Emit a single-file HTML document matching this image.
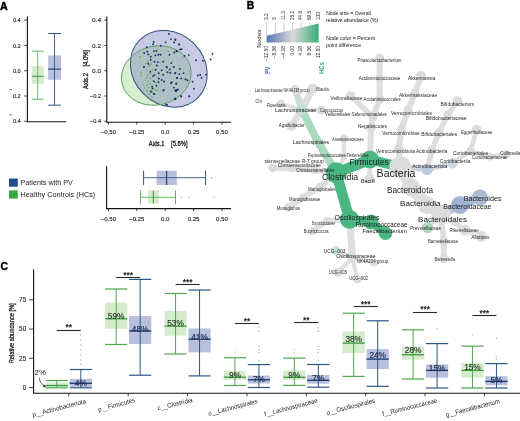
<!DOCTYPE html>
<html><head><meta charset="utf-8"><style>
html,body{margin:0;padding:0;background:#fff;}
svg{display:block;filter:blur(0.3px);}
text{font-family:"Liberation Sans",sans-serif;} .tk{stroke:#2a2a2a;stroke-width:0.15px;}
</style></head><body>
<svg width="520" height="421" viewBox="0 0 520 421">
<rect width="520" height="421" fill="#fff"/>
<text x="0.10" y="9.62" font-size="10.60" fill="#000" font-weight="bold" stroke="#000" stroke-width="0.5">A</text>
<line x1="27.40" y1="16.50" x2="27.40" y2="122.20" stroke="#111" stroke-width="1.1"/>
<line x1="26.90" y1="121.70" x2="66.00" y2="121.70" stroke="#111" stroke-width="1.1"/>
<line x1="24.20" y1="20.10" x2="27.40" y2="20.10" stroke="#111" stroke-width="0.8"/>
<text x="12.90" y="22.26" font-size="6.00" fill="#2a2a2a" textLength="7.80" lengthAdjust="spacingAndGlyphs" class="tk">0.4</text>
<line x1="24.20" y1="45.40" x2="27.40" y2="45.40" stroke="#111" stroke-width="0.8"/>
<text x="12.90" y="47.56" font-size="6.00" fill="#2a2a2a" textLength="7.80" lengthAdjust="spacingAndGlyphs" class="tk">0.2</text>
<line x1="24.20" y1="70.70" x2="27.40" y2="70.70" stroke="#111" stroke-width="0.8"/>
<text x="12.90" y="72.86" font-size="6.00" fill="#2a2a2a" textLength="7.80" lengthAdjust="spacingAndGlyphs" class="tk">0.0</text>
<line x1="24.20" y1="96.00" x2="27.40" y2="96.00" stroke="#111" stroke-width="0.8"/>
<text x="12.90" y="98.16" font-size="6.00" fill="#2a2a2a" textLength="7.80" lengthAdjust="spacingAndGlyphs" class="tk">0.2</text>
<line x1="9.40" y1="89.50" x2="12.00" y2="89.50" stroke="#444" stroke-width="0.7"/>
<line x1="24.20" y1="121.30" x2="27.40" y2="121.30" stroke="#111" stroke-width="0.8"/>
<text x="12.90" y="123.46" font-size="6.00" fill="#2a2a2a" textLength="7.80" lengthAdjust="spacingAndGlyphs" class="tk">0.4</text>
<line x1="9.40" y1="114.80" x2="12.00" y2="114.80" stroke="#444" stroke-width="0.7"/>
<rect x="31.80" y="66.30" width="12.00" height="17.50" fill="#d6ebcd"/>
<line x1="37.70" y1="51.10" x2="37.70" y2="99.20" stroke="#4ea84e" stroke-width="0.8"/>
<line x1="31.80" y1="51.10" x2="43.60" y2="51.10" stroke="#4ea84e" stroke-width="0.9"/>
<line x1="31.80" y1="99.20" x2="43.60" y2="99.20" stroke="#4ea84e" stroke-width="0.9"/>
<line x1="31.80" y1="76.30" x2="43.60" y2="76.30" stroke="#3c8f3c" stroke-width="1.0"/>
<rect x="48.20" y="55.40" width="12.80" height="24.40" fill="#b9c0dd"/>
<line x1="54.50" y1="33.50" x2="54.50" y2="105.20" stroke="#2c5689" stroke-width="0.9"/>
<line x1="48.20" y1="33.50" x2="61.00" y2="33.50" stroke="#2c5689" stroke-width="1.0"/>
<line x1="48.20" y1="105.20" x2="61.00" y2="105.20" stroke="#2c5689" stroke-width="1.0"/>
<line x1="48.20" y1="69.10" x2="61.00" y2="69.10" stroke="#1d3f73" stroke-width="1.1"/>
<line x1="106.80" y1="16.50" x2="106.80" y2="122.20" stroke="#111" stroke-width="1.1"/>
<line x1="106.30" y1="122.30" x2="231.00" y2="122.30" stroke="#111" stroke-width="1.1"/>
<line x1="104.30" y1="20.10" x2="106.80" y2="20.10" stroke="#111" stroke-width="0.8"/>
<text x="92.00" y="22.26" font-size="6.00" fill="#2a2a2a" textLength="9.00" lengthAdjust="spacingAndGlyphs" class="tk">0.4</text>
<line x1="104.30" y1="45.40" x2="106.80" y2="45.40" stroke="#111" stroke-width="0.8"/>
<text x="92.00" y="47.56" font-size="6.00" fill="#2a2a2a" textLength="9.00" lengthAdjust="spacingAndGlyphs" class="tk">0.2</text>
<line x1="104.30" y1="70.70" x2="106.80" y2="70.70" stroke="#111" stroke-width="0.8"/>
<text x="92.00" y="72.86" font-size="6.00" fill="#2a2a2a" textLength="9.00" lengthAdjust="spacingAndGlyphs" class="tk">0.0</text>
<line x1="104.30" y1="96.00" x2="106.80" y2="96.00" stroke="#111" stroke-width="0.8"/>
<text x="90.00" y="98.16" font-size="6.00" fill="#2a2a2a" textLength="11.00" lengthAdjust="spacingAndGlyphs" class="tk">−0.2</text>
<line x1="104.30" y1="121.30" x2="106.80" y2="121.30" stroke="#111" stroke-width="0.8"/>
<text x="90.00" y="123.46" font-size="6.00" fill="#2a2a2a" textLength="11.00" lengthAdjust="spacingAndGlyphs" class="tk">−0.4</text>
<line x1="108.45" y1="122.10" x2="108.45" y2="124.60" stroke="#111" stroke-width="0.8"/>
<text x="100.86" y="133.76" font-size="6.00" fill="#2a2a2a" class="tk">−0.50</text>
<line x1="136.82" y1="122.10" x2="136.82" y2="124.60" stroke="#111" stroke-width="0.8"/>
<text x="129.23" y="133.76" font-size="6.00" fill="#2a2a2a" class="tk">−0.25</text>
<line x1="165.20" y1="122.10" x2="165.20" y2="124.60" stroke="#111" stroke-width="0.8"/>
<text x="161.03" y="133.76" font-size="6.00" fill="#2a2a2a" class="tk">0.0</text>
<line x1="193.57" y1="122.10" x2="193.57" y2="124.60" stroke="#111" stroke-width="0.8"/>
<text x="187.74" y="133.76" font-size="6.00" fill="#2a2a2a" class="tk">0.25</text>
<line x1="221.95" y1="122.10" x2="221.95" y2="124.60" stroke="#111" stroke-width="0.8"/>
<text x="216.11" y="133.76" font-size="6.00" fill="#2a2a2a" class="tk">0.50</text>
<text x="148.80" y="146.34" font-size="7.60" fill="#1a1a1a" textLength="38.70" lengthAdjust="spacingAndGlyphs" style="white-space:pre" stroke="#1a1a1a" stroke-width="0.3">Axis.1    [5.6%]</text>
<text transform="translate(87.54,89.00) rotate(-90)" x="0" y="0" font-size="7.60" fill="#1a1a1a" stroke="#1a1a1a" stroke-width="0.3" style="white-space:pre" textLength="39.00" lengthAdjust="spacingAndGlyphs">Axis.2    [4.0%]</text>
<ellipse cx="156.3" cy="75.5" rx="35.2" ry="29.4" transform="rotate(-14 156.3 75.5)" fill="#d8eed0"/>
<ellipse cx="168.8" cy="68.8" rx="41.0" ry="35.6" transform="rotate(45 168.8 68.8)" fill="rgb(98,104,178)" fill-opacity="0.35"/>
<ellipse cx="168.8" cy="68.8" rx="41.0" ry="35.6" transform="rotate(45 168.8 68.8)" fill="none" stroke="#2f4f7a" stroke-width="1.0"/>
<ellipse cx="156.3" cy="75.5" rx="35.2" ry="29.4" transform="rotate(-14 156.3 75.5)" fill="none" stroke="#5a9e5a" stroke-width="0.9"/>
<circle cx="140.10" cy="56.80" r="0.85" fill="#62b562"/>
<circle cx="168.00" cy="51.10" r="0.85" fill="#62b562"/>
<circle cx="147.80" cy="61.70" r="0.85" fill="#62b562"/>
<circle cx="149.70" cy="65.00" r="0.85" fill="#62b562"/>
<circle cx="149.20" cy="66.20" r="0.85" fill="#62b562"/>
<circle cx="147.30" cy="69.80" r="0.85" fill="#62b562"/>
<circle cx="141.50" cy="72.70" r="0.85" fill="#62b562"/>
<circle cx="147.80" cy="74.70" r="0.85" fill="#62b562"/>
<circle cx="141.10" cy="75.60" r="0.85" fill="#62b562"/>
<circle cx="146.80" cy="77.50" r="0.85" fill="#62b562"/>
<circle cx="150.20" cy="78.50" r="0.85" fill="#62b562"/>
<circle cx="148.30" cy="81.40" r="0.85" fill="#62b562"/>
<circle cx="153.10" cy="80.90" r="0.85" fill="#62b562"/>
<circle cx="143.50" cy="84.80" r="0.85" fill="#62b562"/>
<circle cx="147.30" cy="85.20" r="0.85" fill="#62b562"/>
<circle cx="155.50" cy="82.80" r="0.85" fill="#62b562"/>
<circle cx="147.30" cy="90.50" r="0.85" fill="#62b562"/>
<circle cx="151.20" cy="90.00" r="0.85" fill="#62b562"/>
<circle cx="155.50" cy="90.00" r="0.85" fill="#62b562"/>
<circle cx="149.20" cy="93.90" r="0.85" fill="#62b562"/>
<circle cx="152.60" cy="92.40" r="0.85" fill="#62b562"/>
<circle cx="157.40" cy="90.50" r="0.85" fill="#62b562"/>
<circle cx="158.80" cy="82.30" r="0.85" fill="#62b562"/>
<circle cx="147.10" cy="90.60" r="0.85" fill="#62b562"/>
<circle cx="151.20" cy="92.30" r="0.85" fill="#62b562"/>
<circle cx="146.00" cy="63.50" r="0.85" fill="#62b562"/>
<circle cx="151.00" cy="64.00" r="0.85" fill="#62b562"/>
<circle cx="145.50" cy="80.00" r="0.85" fill="#62b562"/>
<circle cx="150.00" cy="84.00" r="0.85" fill="#62b562"/>
<circle cx="152.00" cy="97.00" r="0.85" fill="#62b562"/>
<circle cx="146.00" cy="96.00" r="0.85" fill="#62b562"/>
<circle cx="149.00" cy="87.50" r="0.85" fill="#62b562"/>
<circle cx="144.50" cy="88.00" r="0.85" fill="#62b562"/>
<circle cx="150.50" cy="73.50" r="0.85" fill="#62b562"/>
<circle cx="152.50" cy="70.00" r="0.85" fill="#62b562"/>
<circle cx="168.90" cy="34.00" r="0.95" fill="#1b3560"/>
<circle cx="170.90" cy="39.10" r="0.95" fill="#1b3560"/>
<circle cx="175.20" cy="39.50" r="0.95" fill="#1b3560"/>
<circle cx="174.20" cy="42.40" r="0.95" fill="#1b3560"/>
<circle cx="165.60" cy="42.40" r="0.95" fill="#1b3560"/>
<circle cx="153.60" cy="41.90" r="0.95" fill="#1b3560"/>
<circle cx="153.10" cy="44.30" r="0.95" fill="#1b3560"/>
<circle cx="160.80" cy="45.80" r="0.95" fill="#1b3560"/>
<circle cx="146.80" cy="47.20" r="0.95" fill="#1b3560"/>
<circle cx="179.00" cy="44.30" r="0.95" fill="#1b3560"/>
<circle cx="144.20" cy="53.00" r="0.95" fill="#1b3560"/>
<circle cx="147.30" cy="51.80" r="0.95" fill="#1b3560"/>
<circle cx="148.30" cy="54.40" r="0.95" fill="#1b3560"/>
<circle cx="154.00" cy="51.10" r="0.95" fill="#1b3560"/>
<circle cx="156.40" cy="50.90" r="0.95" fill="#1b3560"/>
<circle cx="155.50" cy="55.40" r="0.95" fill="#1b3560"/>
<circle cx="158.40" cy="54.70" r="0.95" fill="#1b3560"/>
<circle cx="160.60" cy="54.70" r="0.95" fill="#1b3560"/>
<circle cx="150.70" cy="56.80" r="0.95" fill="#1b3560"/>
<circle cx="169.40" cy="54.70" r="0.95" fill="#1b3560"/>
<circle cx="174.20" cy="52.50" r="0.95" fill="#1b3560"/>
<circle cx="177.10" cy="51.10" r="0.95" fill="#1b3560"/>
<circle cx="150.70" cy="59.70" r="0.95" fill="#1b3560"/>
<circle cx="154.50" cy="61.70" r="0.95" fill="#1b3560"/>
<circle cx="157.90" cy="62.10" r="0.95" fill="#1b3560"/>
<circle cx="163.20" cy="61.70" r="0.95" fill="#1b3560"/>
<circle cx="171.30" cy="63.10" r="0.95" fill="#1b3560"/>
<circle cx="148.30" cy="63.80" r="0.95" fill="#1b3560"/>
<circle cx="156.90" cy="65.50" r="0.95" fill="#1b3560"/>
<circle cx="143.90" cy="66.90" r="0.95" fill="#1b3560"/>
<circle cx="166.50" cy="66.90" r="0.95" fill="#1b3560"/>
<circle cx="175.50" cy="39.90" r="0.95" fill="#1b3560"/>
<circle cx="179.30" cy="44.60" r="0.95" fill="#1b3560"/>
<circle cx="180.20" cy="49.40" r="0.95" fill="#1b3560"/>
<circle cx="181.70" cy="49.10" r="0.95" fill="#1b3560"/>
<circle cx="184.50" cy="56.00" r="0.95" fill="#1b3560"/>
<circle cx="188.80" cy="55.10" r="0.95" fill="#1b3560"/>
<circle cx="195.90" cy="60.30" r="0.95" fill="#1b3560"/>
<circle cx="203.00" cy="60.80" r="0.95" fill="#1b3560"/>
<circle cx="212.50" cy="53.70" r="0.95" fill="#1b3560"/>
<circle cx="210.60" cy="59.40" r="0.95" fill="#1b3560"/>
<circle cx="176.40" cy="51.30" r="0.95" fill="#1b3560"/>
<circle cx="143.90" cy="67.00" r="0.95" fill="#1b3560"/>
<circle cx="155.50" cy="69.80" r="0.95" fill="#1b3560"/>
<circle cx="161.70" cy="70.30" r="0.95" fill="#1b3560"/>
<circle cx="167.00" cy="67.40" r="0.95" fill="#1b3560"/>
<circle cx="169.90" cy="69.40" r="0.95" fill="#1b3560"/>
<circle cx="173.80" cy="67.00" r="0.95" fill="#1b3560"/>
<circle cx="150.20" cy="71.80" r="0.95" fill="#1b3560"/>
<circle cx="158.80" cy="73.20" r="0.95" fill="#1b3560"/>
<circle cx="163.20" cy="74.70" r="0.95" fill="#1b3560"/>
<circle cx="167.50" cy="72.30" r="0.95" fill="#1b3560"/>
<circle cx="170.40" cy="72.70" r="0.95" fill="#1b3560"/>
<circle cx="175.20" cy="73.20" r="0.95" fill="#1b3560"/>
<circle cx="153.10" cy="76.10" r="0.95" fill="#1b3560"/>
<circle cx="154.50" cy="75.10" r="0.95" fill="#1b3560"/>
<circle cx="158.80" cy="78.50" r="0.95" fill="#1b3560"/>
<circle cx="161.70" cy="79.90" r="0.95" fill="#1b3560"/>
<circle cx="177.10" cy="78.00" r="0.95" fill="#1b3560"/>
<circle cx="154.00" cy="81.40" r="0.95" fill="#1b3560"/>
<circle cx="158.40" cy="81.90" r="0.95" fill="#1b3560"/>
<circle cx="164.10" cy="81.40" r="0.95" fill="#1b3560"/>
<circle cx="171.80" cy="82.30" r="0.95" fill="#1b3560"/>
<circle cx="170.90" cy="83.30" r="0.95" fill="#1b3560"/>
<circle cx="176.20" cy="83.80" r="0.95" fill="#1b3560"/>
<circle cx="152.10" cy="86.70" r="0.95" fill="#1b3560"/>
<circle cx="156.40" cy="85.70" r="0.95" fill="#1b3560"/>
<circle cx="173.80" cy="87.60" r="0.95" fill="#1b3560"/>
<circle cx="175.20" cy="90.50" r="0.95" fill="#1b3560"/>
<circle cx="177.10" cy="89.60" r="0.95" fill="#1b3560"/>
<circle cx="163.70" cy="90.00" r="0.95" fill="#1b3560"/>
<circle cx="152.60" cy="88.60" r="0.95" fill="#1b3560"/>
<circle cx="154.50" cy="93.90" r="0.95" fill="#1b3560"/>
<circle cx="150.70" cy="91.50" r="0.95" fill="#1b3560"/>
<circle cx="175.20" cy="98.70" r="0.95" fill="#1b3560"/>
<circle cx="167.00" cy="105.00" r="0.95" fill="#1b3560"/>
<circle cx="179.80" cy="68.90" r="0.95" fill="#1b3560"/>
<circle cx="175.50" cy="73.10" r="0.95" fill="#1b3560"/>
<circle cx="179.30" cy="74.10" r="0.95" fill="#1b3560"/>
<circle cx="183.60" cy="73.10" r="0.95" fill="#1b3560"/>
<circle cx="176.90" cy="77.90" r="0.95" fill="#1b3560"/>
<circle cx="181.20" cy="78.40" r="0.95" fill="#1b3560"/>
<circle cx="185.50" cy="79.30" r="0.95" fill="#1b3560"/>
<circle cx="187.40" cy="80.30" r="0.95" fill="#1b3560"/>
<circle cx="176.40" cy="83.60" r="0.95" fill="#1b3560"/>
<circle cx="192.60" cy="81.70" r="0.95" fill="#1b3560"/>
<circle cx="197.80" cy="75.50" r="0.95" fill="#1b3560"/>
<circle cx="200.20" cy="75.00" r="0.95" fill="#1b3560"/>
<circle cx="201.60" cy="77.90" r="0.95" fill="#1b3560"/>
<circle cx="205.90" cy="74.60" r="0.95" fill="#1b3560"/>
<circle cx="194.00" cy="88.80" r="0.95" fill="#1b3560"/>
<circle cx="176.40" cy="90.20" r="0.95" fill="#1b3560"/>
<circle cx="177.90" cy="89.80" r="0.95" fill="#1b3560"/>
<circle cx="181.20" cy="96.40" r="0.95" fill="#1b3560"/>
<circle cx="189.30" cy="96.40" r="0.95" fill="#1b3560"/>
<circle cx="175.50" cy="98.80" r="0.95" fill="#1b3560"/>
<circle cx="154.00" cy="94.00" r="0.95" fill="#1b3560"/>
<circle cx="163.30" cy="90.60" r="0.95" fill="#1b3560"/>
<circle cx="176.00" cy="91.20" r="0.95" fill="#1b3560"/>
<circle cx="174.80" cy="98.70" r="0.95" fill="#1b3560"/>
<circle cx="181.20" cy="96.30" r="0.95" fill="#1b3560"/>
<circle cx="189.20" cy="96.30" r="0.95" fill="#1b3560"/>
<circle cx="166.20" cy="104.50" r="0.95" fill="#1b3560"/>
<line x1="106.60" y1="166.30" x2="106.60" y2="209.10" stroke="#111" stroke-width="1.1"/>
<line x1="106.30" y1="208.60" x2="231.00" y2="208.60" stroke="#111" stroke-width="1.1"/>
<line x1="108.45" y1="208.60" x2="108.45" y2="211.10" stroke="#111" stroke-width="0.8"/>
<text x="100.86" y="220.96" font-size="6.00" fill="#2a2a2a" class="tk">−0.50</text>
<line x1="136.82" y1="208.60" x2="136.82" y2="211.10" stroke="#111" stroke-width="0.8"/>
<text x="129.23" y="220.96" font-size="6.00" fill="#2a2a2a" class="tk">−0.25</text>
<line x1="165.20" y1="208.60" x2="165.20" y2="211.10" stroke="#111" stroke-width="0.8"/>
<text x="161.03" y="220.96" font-size="6.00" fill="#2a2a2a" class="tk">0.0</text>
<line x1="193.57" y1="208.60" x2="193.57" y2="211.10" stroke="#111" stroke-width="0.8"/>
<text x="187.74" y="220.96" font-size="6.00" fill="#2a2a2a" class="tk">0.25</text>
<line x1="221.95" y1="208.60" x2="221.95" y2="211.10" stroke="#111" stroke-width="0.8"/>
<text x="216.11" y="220.96" font-size="6.00" fill="#2a2a2a" class="tk">0.50</text>
<rect x="156.60" y="170.80" width="20.20" height="14.20" fill="#b9c0dd"/>
<line x1="143.60" y1="177.70" x2="205.60" y2="177.70" stroke="#2c5689" stroke-width="0.9"/>
<line x1="143.60" y1="170.60" x2="143.60" y2="185.00" stroke="#2c5689" stroke-width="1.0"/>
<line x1="205.60" y1="170.60" x2="205.60" y2="185.00" stroke="#2c5689" stroke-width="1.0"/>
<line x1="166.60" y1="170.80" x2="166.60" y2="185.00" stroke="#1d3f73" stroke-width="1.1"/>
<circle cx="211.50" cy="177.70" r="0.90" fill="#c4c4c4"/>
<rect x="148.10" y="190.40" width="10.70" height="13.20" fill="#d6ebcd"/>
<line x1="140.50" y1="197.30" x2="175.50" y2="197.30" stroke="#4ea84e" stroke-width="0.8"/>
<line x1="140.50" y1="190.20" x2="140.50" y2="204.30" stroke="#4ea84e" stroke-width="0.9"/>
<line x1="175.50" y1="190.20" x2="175.50" y2="204.30" stroke="#4ea84e" stroke-width="0.9"/>
<line x1="153.30" y1="190.40" x2="153.30" y2="203.60" stroke="#3c8f3c" stroke-width="1.0"/>
<circle cx="181.50" cy="197.30" r="0.85" fill="#d2d2d2"/>
<circle cx="189.00" cy="197.30" r="0.85" fill="#d2d2d2"/>
<circle cx="214.00" cy="197.30" r="0.85" fill="#d2d2d2"/>
<rect x="9.00" y="178.50" width="8.80" height="8.20" fill="#1f4e8a"/>
<rect x="9.00" y="190.40" width="8.80" height="8.20" fill="#3aa842"/>
<text x="20.60" y="185.38" font-size="7.16" fill="#222" textLength="52.10" lengthAdjust="spacingAndGlyphs">Patients with PV</text>
<text x="20.60" y="197.31" font-size="7.26" fill="#222" textLength="74.60" lengthAdjust="spacingAndGlyphs">Healthy Controls (HCs)</text>
<text x="246.80" y="9.34" font-size="10.40" fill="#000" font-weight="bold" stroke="#000" stroke-width="0.4">B</text>
<defs><linearGradient id="gr" x1="0" x2="1" y1="0" y2="0">
<stop offset="0" stop-color="#5475b2"/><stop offset="0.5" stop-color="#d9d9d9"/><stop offset="1" stop-color="#36ad7a"/></linearGradient></defs>
<polygon points="266.6,35.7 318.6,23.4 318.6,42.4 266.6,42.4" fill="url(#gr)"/>
<line x1="266.60" y1="22.50" x2="266.60" y2="35.70" stroke="#999" stroke-width="0.5"/>
<text transform="translate(267.50,20.1) rotate(-90)" font-size="4.8" fill="#2a2a2a">0.2</text>
<text transform="translate(267.50,61.12) rotate(-90)" font-size="4.9" fill="#2a2a2a">−12.50</text>
<line x1="275.27" y1="22.50" x2="275.27" y2="33.65" stroke="#999" stroke-width="0.5"/>
<text transform="translate(276.17,20.1) rotate(-90)" font-size="4.8" fill="#2a2a2a">3</text>
<text transform="translate(276.17,58.40) rotate(-90)" font-size="4.9" fill="#2a2a2a">−8.36</text>
<line x1="283.93" y1="22.50" x2="283.93" y2="31.60" stroke="#999" stroke-width="0.5"/>
<text transform="translate(284.83,20.1) rotate(-90)" font-size="4.8" fill="#2a2a2a">11.3</text>
<text transform="translate(284.83,58.40) rotate(-90)" font-size="4.9" fill="#2a2a2a">−4.18</text>
<line x1="292.60" y1="22.50" x2="292.60" y2="29.55" stroke="#999" stroke-width="0.5"/>
<text transform="translate(293.50,20.1) rotate(-90)" font-size="4.8" fill="#2a2a2a">25.2</text>
<text transform="translate(293.50,55.54) rotate(-90)" font-size="4.9" fill="#2a2a2a">0.00</text>
<line x1="301.27" y1="22.50" x2="301.27" y2="27.50" stroke="#999" stroke-width="0.5"/>
<text transform="translate(302.17,20.1) rotate(-90)" font-size="4.8" fill="#2a2a2a">44.6</text>
<text transform="translate(302.17,55.54) rotate(-90)" font-size="4.9" fill="#2a2a2a">4.18</text>
<line x1="309.93" y1="22.50" x2="309.93" y2="25.45" stroke="#999" stroke-width="0.5"/>
<text transform="translate(310.83,20.1) rotate(-90)" font-size="4.8" fill="#2a2a2a">69.5</text>
<text transform="translate(310.83,55.54) rotate(-90)" font-size="4.9" fill="#2a2a2a">8.36</text>
<line x1="318.60" y1="22.50" x2="318.60" y2="23.40" stroke="#999" stroke-width="0.5"/>
<text transform="translate(319.50,20.1) rotate(-90)" font-size="4.8" fill="#2a2a2a">100</text>
<text transform="translate(319.50,58.26) rotate(-90)" font-size="4.9" fill="#2a2a2a">12.50</text>
<text transform="translate(260.73,47.80) rotate(-90)" x="0" y="0" font-size="6.20" fill="#1a1a1a" textLength="18.30" lengthAdjust="spacingAndGlyphs">Nodes</text>
<text transform="translate(269.90,74.00) rotate(-90)" x="0" y="0" font-size="6.40" fill="#4a72b0" font-weight="bold" textLength="7.60" lengthAdjust="spacingAndGlyphs">PV</text>
<text transform="translate(324.28,74.00) rotate(-90)" x="0" y="0" font-size="6.60" fill="#35a877" font-weight="bold" textLength="11.70" lengthAdjust="spacingAndGlyphs">HCs</text>
<text x="326.20" y="14.83" font-size="5.10" fill="#111" textLength="44.60" lengthAdjust="spacingAndGlyphs">Node size = Overall</text>
<text x="326.20" y="21.52" font-size="5.06" fill="#111" textLength="52.00" lengthAdjust="spacingAndGlyphs">relative abundance (%)</text>
<text x="326.20" y="40.36" font-size="5.18" fill="#111" textLength="48.80" lengthAdjust="spacingAndGlyphs">Node color = Percent</text>
<text x="326.20" y="47.24" font-size="5.10" fill="#111" textLength="34.80" lengthAdjust="spacingAndGlyphs">point difference</text>
<path d="M349.5,219.3 L352.5,258.0" fill="none" stroke="#dfdfdf" stroke-width="7.199999999999999" stroke-linecap="round" stroke-linejoin="round"/>
<path d="M352.5,258.0 L335.5,250.6" fill="none" stroke="#dfdfdf" stroke-width="4.2" stroke-linecap="round" stroke-linejoin="round"/>
<path d="M352.5,258.0 L374.0,262.5" fill="none" stroke="#dfdfdf" stroke-width="4.2" stroke-linecap="round" stroke-linejoin="round"/>
<path d="M352.5,258.0 L337.5,272.5" fill="none" stroke="#dfdfdf" stroke-width="4.2" stroke-linecap="round" stroke-linejoin="round"/>
<path d="M352.5,258.0 L357.0,279.0" fill="none" stroke="#dfdfdf" stroke-width="4.2" stroke-linecap="round" stroke-linejoin="round"/>
<path d="M349.5,219.3 L327.0,221.0" fill="none" stroke="#dfdfdf" stroke-width="5.3999999999999995" stroke-linecap="round" stroke-linejoin="round"/>
<path d="M327.0,221.0 L313.0,231.0" fill="none" stroke="#dfdfdf" stroke-width="5.3999999999999995" stroke-linecap="round" stroke-linejoin="round"/>
<path d="M302.0,109.8 L312.5,88.8" fill="none" stroke="#dfdfdf" stroke-width="6.96" stroke-linecap="round" stroke-linejoin="round"/>
<path d="M302.0,109.8 L291.3,126.0" fill="none" stroke="#dfdfdf" stroke-width="6.96" stroke-linecap="round" stroke-linejoin="round"/>
<path d="M302.0,109.8 L280.8,103.8" fill="none" stroke="#dfdfdf" stroke-width="3.5999999999999996" stroke-linecap="round" stroke-linejoin="round"/>
<path d="M302.0,109.8 L321.2,110.0" fill="none" stroke="#dfdfdf" stroke-width="3.5999999999999996" stroke-linecap="round" stroke-linejoin="round"/>
<path d="M336.2,172.8 L314.0,170.0" fill="none" stroke="#dfdfdf" stroke-width="6.0" stroke-linecap="round" stroke-linejoin="round"/>
<path d="M314.0,170.0 L292.0,168.3" fill="none" stroke="#dfdfdf" stroke-width="6.0" stroke-linecap="round" stroke-linejoin="round"/>
<path d="M292.0,168.3 L272.5,167.8" fill="none" stroke="#dfdfdf" stroke-width="6.0" stroke-linecap="round" stroke-linejoin="round"/>
<path d="M336.2,172.8 L320.0,187.0" fill="none" stroke="#dfdfdf" stroke-width="6.0" stroke-linecap="round" stroke-linejoin="round"/>
<path d="M320.0,187.0 L303.0,197.5" fill="none" stroke="#dfdfdf" stroke-width="6.0" stroke-linecap="round" stroke-linejoin="round"/>
<path d="M303.0,197.5 L288.0,207.5" fill="none" stroke="#dfdfdf" stroke-width="6.0" stroke-linecap="round" stroke-linejoin="round"/>
<path d="M336.2,172.8 L344.0,157.0" fill="none" stroke="#dfdfdf" stroke-width="3.5999999999999996" stroke-linecap="round" stroke-linejoin="round"/>
<path d="M344.0,157.0 L343.8,138.5" fill="none" stroke="#dfdfdf" stroke-width="4.2" stroke-linecap="round" stroke-linejoin="round"/>
<path d="M370.0,159.5 L369.5,178.5" fill="none" stroke="#dfdfdf" stroke-width="4.8" stroke-linecap="round" stroke-linejoin="round"/>
<path d="M370.0,159.5 L371.0,128.0" fill="none" stroke="#dfdfdf" stroke-width="6.0" stroke-linecap="round" stroke-linejoin="round"/>
<path d="M371.0,128.0 L373.0,117.0" fill="none" stroke="#dfdfdf" stroke-width="6.0" stroke-linecap="round" stroke-linejoin="round"/>
<path d="M373.0,117.0 L350.4,95.7" fill="none" stroke="#dfdfdf" stroke-width="5.3999999999999995" stroke-linecap="round" stroke-linejoin="round"/>
<path d="M373.0,117.0 L379.7,99.0" fill="none" stroke="#dfdfdf" stroke-width="6.0" stroke-linecap="round" stroke-linejoin="round"/>
<path d="M379.7,99.0 L379.7,78.0" fill="none" stroke="#dfdfdf" stroke-width="6.0" stroke-linecap="round" stroke-linejoin="round"/>
<path d="M379.7,78.0 L379.7,58.0" fill="none" stroke="#dfdfdf" stroke-width="6.0" stroke-linecap="round" stroke-linejoin="round"/>
<path d="M400.3,167.0 L398.7,149.2" fill="none" stroke="#dfdfdf" stroke-width="6.0" stroke-linecap="round" stroke-linejoin="round"/>
<path d="M398.7,149.2 L401.4,129.6" fill="none" stroke="#dfdfdf" stroke-width="6.0" stroke-linecap="round" stroke-linejoin="round"/>
<path d="M401.4,129.6 L407.9,110.0" fill="none" stroke="#dfdfdf" stroke-width="6.0" stroke-linecap="round" stroke-linejoin="round"/>
<path d="M407.9,110.0 L415.0,93.0" fill="none" stroke="#dfdfdf" stroke-width="6.0" stroke-linecap="round" stroke-linejoin="round"/>
<path d="M415.0,93.0 L421.0,76.0" fill="none" stroke="#dfdfdf" stroke-width="6.0" stroke-linecap="round" stroke-linejoin="round"/>
<path d="M427.3,169.3 L432.0,149.8" fill="none" stroke="#dfdfdf" stroke-width="5.3999999999999995" stroke-linecap="round" stroke-linejoin="round"/>
<path d="M432.0,149.8 L438.8,132.8" fill="none" stroke="#dfdfdf" stroke-width="5.3999999999999995" stroke-linecap="round" stroke-linejoin="round"/>
<path d="M438.8,132.8 L447.8,114.8" fill="none" stroke="#dfdfdf" stroke-width="5.3999999999999995" stroke-linecap="round" stroke-linejoin="round"/>
<path d="M447.8,114.8 L457.3,101.3" fill="none" stroke="#dfdfdf" stroke-width="5.3999999999999995" stroke-linecap="round" stroke-linejoin="round"/>
<path d="M452.4,163.3 L470.4,150.9" fill="none" stroke="#dfdfdf" stroke-width="4.8" stroke-linecap="round" stroke-linejoin="round"/>
<path d="M470.4,150.9 L476.7,130.1" fill="none" stroke="#dfdfdf" stroke-width="4.8" stroke-linecap="round" stroke-linejoin="round"/>
<path d="M470.4,150.9 L489.6,156.5" fill="none" stroke="#dfdfdf" stroke-width="4.2" stroke-linecap="round" stroke-linejoin="round"/>
<path d="M489.6,156.5 L506.5,154.3" fill="none" stroke="#dfdfdf" stroke-width="4.2" stroke-linecap="round" stroke-linejoin="round"/>
<path d="M400.3,167.0 L411.0,187.5" fill="none" stroke="#dfdfdf" stroke-width="12" stroke-linecap="round" stroke-linejoin="round"/>
<path d="M411.0,187.5 L427.0,205.0" fill="none" stroke="#dfdfdf" stroke-width="12" stroke-linecap="round" stroke-linejoin="round"/>
<path d="M427.0,205.0 L441.0,214.0" fill="none" stroke="#dfdfdf" stroke-width="11.5" stroke-linecap="round" stroke-linejoin="round"/>
<path d="M441.0,214.0 L427.5,227.5" fill="none" stroke="#dfdfdf" stroke-width="5.3999999999999995" stroke-linecap="round" stroke-linejoin="round"/>
<path d="M441.0,214.0 L465.0,230.0" fill="none" stroke="#dfdfdf" stroke-width="5.3999999999999995" stroke-linecap="round" stroke-linejoin="round"/>
<path d="M465.0,230.0 L481.3,236.3" fill="none" stroke="#dfdfdf" stroke-width="5.3999999999999995" stroke-linecap="round" stroke-linejoin="round"/>
<path d="M441.0,214.0 L443.8,241.3" fill="none" stroke="#dfdfdf" stroke-width="6.0" stroke-linecap="round" stroke-linejoin="round"/>
<path d="M443.8,241.3 L443.8,258.8" fill="none" stroke="#dfdfdf" stroke-width="6.0" stroke-linecap="round" stroke-linejoin="round"/>
<path d="M336.2,172.8 L316.4,139.0" fill="none" stroke="#a9d9c0" stroke-width="8" stroke-linecap="round" stroke-linejoin="round"/>
<path d="M316.4,139.0 L302.0,109.8" fill="none" stroke="#a9d9c0" stroke-width="7.5" stroke-linecap="round" stroke-linejoin="round"/>
<path d="M302.0,109.8 L295.2,89.4" fill="none" stroke="#cfdfd6" stroke-width="7" stroke-linecap="round" stroke-linejoin="round"/>
<path d="M400.3,167.0 L427.3,169.3" fill="none" stroke="#d0d6e1" stroke-width="6" stroke-linecap="round" stroke-linejoin="round"/>
<path d="M427.3,169.3 L452.4,163.3" fill="none" stroke="#d3d9e3" stroke-width="5" stroke-linecap="round" stroke-linejoin="round"/>
<path d="M441.0,214.0 L460.0,205.0" fill="none" stroke="#bcc7da" stroke-width="9" stroke-linecap="round" stroke-linejoin="round"/>
<path d="M460.0,205.0 L480.0,197.5" fill="none" stroke="#aebdd7" stroke-width="9" stroke-linecap="round" stroke-linejoin="round"/>
<path d="M400.3,167.0 L370.0,159.5" fill="none" stroke="#4ab682" stroke-width="10" stroke-linecap="round" stroke-linejoin="round"/>
<path d="M370.0,159.5 L336.2,172.8" fill="none" stroke="#4ab682" stroke-width="10.5" stroke-linecap="round" stroke-linejoin="round"/>
<path d="M336.2,172.8 L349.5,219.3" fill="none" stroke="#4ab682" stroke-width="10.5" stroke-linecap="round" stroke-linejoin="round"/>
<path d="M349.5,219.3 L371.0,222.0" fill="none" stroke="#4ab682" stroke-width="9" stroke-linecap="round" stroke-linejoin="round"/>
<path d="M371.0,222.0 L385.5,233.2" fill="none" stroke="#4ab682" stroke-width="8" stroke-linecap="round" stroke-linejoin="round"/>
<circle cx="400.30" cy="167.00" r="10.80" fill="#dcdcdc"/>
<circle cx="352.50" cy="258.00" r="4.50" fill="#dcdcdc"/>
<circle cx="335.50" cy="250.60" r="4.50" fill="#c5e3d2"/>
<circle cx="374.00" cy="262.50" r="4.00" fill="#dcdcdc"/>
<circle cx="337.50" cy="272.50" r="4.30" fill="#dcdcdc"/>
<circle cx="357.00" cy="279.00" r="4.30" fill="#dcdcdc"/>
<circle cx="327.00" cy="221.00" r="4.00" fill="#dcdcdc"/>
<circle cx="313.00" cy="231.00" r="4.00" fill="#dcdcdc"/>
<circle cx="316.40" cy="139.00" r="4.00" fill="#a9d9c0"/>
<circle cx="302.00" cy="109.80" r="5.50" fill="#bfe0cf"/>
<circle cx="295.20" cy="89.40" r="4.50" fill="#dcdcdc"/>
<circle cx="312.50" cy="88.80" r="5.00" fill="#dcdcdc"/>
<circle cx="280.80" cy="103.80" r="4.00" fill="#dcdcdc"/>
<circle cx="321.20" cy="110.00" r="4.50" fill="#dcdcdc"/>
<circle cx="291.30" cy="126.00" r="5.00" fill="#dcdcdc"/>
<circle cx="314.00" cy="170.00" r="4.00" fill="#dcdcdc"/>
<circle cx="292.00" cy="168.30" r="4.00" fill="#dcdcdc"/>
<circle cx="272.50" cy="167.80" r="4.30" fill="#dcdcdc"/>
<circle cx="320.00" cy="187.00" r="4.00" fill="#dcdcdc"/>
<circle cx="303.00" cy="197.50" r="4.00" fill="#dcdcdc"/>
<circle cx="288.00" cy="207.50" r="4.00" fill="#dcdcdc"/>
<circle cx="344.00" cy="157.00" r="3.50" fill="#dcdcdc"/>
<circle cx="343.80" cy="138.50" r="4.00" fill="#dcdcdc"/>
<circle cx="369.50" cy="178.50" r="5.00" fill="#dcdcdc"/>
<circle cx="371.00" cy="128.00" r="4.50" fill="#dcdcdc"/>
<circle cx="373.00" cy="117.00" r="4.50" fill="#dcdcdc"/>
<circle cx="350.40" cy="95.70" r="4.50" fill="#dcdcdc"/>
<circle cx="379.70" cy="99.00" r="4.50" fill="#dcdcdc"/>
<circle cx="379.70" cy="78.00" r="4.00" fill="#dcdcdc"/>
<circle cx="379.70" cy="58.00" r="4.50" fill="#dcdcdc"/>
<circle cx="398.70" cy="149.20" r="5.00" fill="#dcdcdc"/>
<circle cx="401.40" cy="129.60" r="4.50" fill="#dcdcdc"/>
<circle cx="407.90" cy="110.00" r="4.50" fill="#dcdcdc"/>
<circle cx="415.00" cy="93.00" r="4.50" fill="#dcdcdc"/>
<circle cx="421.00" cy="76.00" r="5.00" fill="#dcdcdc"/>
<circle cx="427.30" cy="169.30" r="5.80" fill="#bccade"/>
<circle cx="432.00" cy="149.80" r="4.50" fill="#dcdcdc"/>
<circle cx="438.80" cy="132.80" r="4.50" fill="#dcdcdc"/>
<circle cx="447.80" cy="114.80" r="4.50" fill="#dcdcdc"/>
<circle cx="457.30" cy="101.30" r="5.00" fill="#dcdcdc"/>
<circle cx="452.40" cy="163.30" r="5.30" fill="#cfd7e4"/>
<circle cx="470.40" cy="150.90" r="4.00" fill="#dcdcdc"/>
<circle cx="476.70" cy="130.10" r="5.00" fill="#dcdcdc"/>
<circle cx="489.60" cy="156.50" r="4.00" fill="#dcdcdc"/>
<circle cx="506.50" cy="154.30" r="4.00" fill="#dcdcdc"/>
<circle cx="411.00" cy="187.50" r="9.00" fill="#dcdcdc"/>
<circle cx="427.00" cy="205.00" r="9.00" fill="#dcdcdc"/>
<circle cx="441.00" cy="214.00" r="9.50" fill="#dcdcdc"/>
<circle cx="460.00" cy="205.00" r="9.00" fill="#a3b4d2"/>
<circle cx="480.00" cy="197.50" r="8.00" fill="#acbcd7"/>
<circle cx="427.50" cy="227.50" r="5.50" fill="#add7be"/>
<circle cx="465.00" cy="230.00" r="5.50" fill="#dcdcdc"/>
<circle cx="481.30" cy="236.30" r="5.50" fill="#dcdcdc"/>
<circle cx="443.80" cy="241.30" r="4.50" fill="#dcdcdc"/>
<circle cx="443.80" cy="258.80" r="4.50" fill="#dcdcdc"/>
<circle cx="370.00" cy="159.50" r="9.00" fill="#4ab682"/>
<circle cx="336.20" cy="172.80" r="10.50" fill="#4ab682"/>
<circle cx="349.50" cy="219.30" r="9.50" fill="#4ab682"/>
<circle cx="371.00" cy="222.00" r="7.50" fill="#4ab682"/>
<circle cx="385.50" cy="233.20" r="6.80" fill="#4ab682"/>
<text x="376.60" y="177.31" font-size="10.58" fill="#1a1a1a" textLength="38.80" lengthAdjust="spacingAndGlyphs">Bacteria</text>
<text x="349.60" y="165.27" font-size="8.52" fill="#1a1a1a" textLength="39.30" lengthAdjust="spacingAndGlyphs">Firmicutes</text>
<text x="321.90" y="179.64" font-size="8.71" fill="#1a1a1a" textLength="36.30" lengthAdjust="spacingAndGlyphs">Clostridia</text>
<text x="387.00" y="193.45" font-size="8.19" fill="#1a1a1a" textLength="46.00" lengthAdjust="spacingAndGlyphs">Bacteroidota</text>
<text x="400.00" y="206.21" font-size="8.10" fill="#1a1a1a" textLength="40.50" lengthAdjust="spacingAndGlyphs">Bacteroidia</text>
<text x="418.00" y="221.91" font-size="8.09" fill="#1a1a1a" textLength="49.00" lengthAdjust="spacingAndGlyphs">Bacteroidales</text>
<text x="463.70" y="201.28" font-size="7.16" fill="#1a1a1a" textLength="37.80" lengthAdjust="spacingAndGlyphs">Bacteroides</text>
<text x="443.20" y="208.70" font-size="6.95" fill="#1a1a1a" textLength="48.30" lengthAdjust="spacingAndGlyphs">Bacteroidaceae</text>
<text x="334.50" y="219.51" font-size="6.98" fill="#1a1a1a" textLength="45.00" lengthAdjust="spacingAndGlyphs">Oscillospirales</text>
<text x="355.50" y="226.78" font-size="6.32" fill="#1a1a1a" textLength="52.00" lengthAdjust="spacingAndGlyphs">Ruminococcaceae</text>
<text x="362.50" y="232.89" font-size="5.82" fill="#1a1a1a" textLength="44.30" lengthAdjust="spacingAndGlyphs">Faecalibacterium</text>
<text x="275.00" y="112.25" font-size="5.42" fill="#1a1a1a" textLength="41.30" lengthAdjust="spacingAndGlyphs">Lachnospiraceae</text>
<text x="292.70" y="144.04" font-size="5.40" fill="#1a1a1a" textLength="36.30" lengthAdjust="spacingAndGlyphs">Lachnospirales</text>
<text x="336.20" y="258.33" font-size="5.37" fill="#1a1a1a" textLength="39.40" lengthAdjust="spacingAndGlyphs">Oscillospiraceae</text>
<text x="254.80" y="91.64" font-size="4.55" fill="#2a2a2a" textLength="54.80" lengthAdjust="spacingAndGlyphs">Lachnospiraceae NK4A136 group</text>
<text x="316.30" y="91.24" font-size="4.55" fill="#2a2a2a" textLength="12.50" lengthAdjust="spacingAndGlyphs">Blautia</text>
<text x="255.60" y="102.84" font-size="4.55" fill="#2a2a2a" textLength="6.00" lengthAdjust="spacingAndGlyphs">Chi</text>
<text x="267.00" y="106.94" font-size="4.55" fill="#2a2a2a" textLength="18.60" lengthAdjust="spacingAndGlyphs">Roseburia</text>
<text x="320.00" y="111.84" font-size="4.55" fill="#2a2a2a" textLength="23.00" lengthAdjust="spacingAndGlyphs">Coprococcus</text>
<text x="325.00" y="116.14" font-size="4.55" fill="#2a2a2a" textLength="61.80" lengthAdjust="spacingAndGlyphs">Veillonellales-Selenomonadales</text>
<text x="330.50" y="99.92" font-size="4.77" fill="#2a2a2a" textLength="31.80" lengthAdjust="spacingAndGlyphs">Veillonellaceae</text>
<text x="278.80" y="127.04" font-size="4.55" fill="#2a2a2a" textLength="26.00" lengthAdjust="spacingAndGlyphs">Agathobacter</text>
<text x="357.50" y="61.54" font-size="4.55" fill="#2a2a2a" textLength="43.90" lengthAdjust="spacingAndGlyphs">Phascolarctobacterium</text>
<text x="358.80" y="79.94" font-size="4.55" fill="#2a2a2a" textLength="41.40" lengthAdjust="spacingAndGlyphs">Acidaminococcaceae</text>
<text x="363.50" y="101.24" font-size="4.55" fill="#2a2a2a" textLength="37.10" lengthAdjust="spacingAndGlyphs">Acidaminococcales</text>
<text x="357.80" y="127.95" font-size="4.86" fill="#2a2a2a" textLength="29.20" lengthAdjust="spacingAndGlyphs">Negativicutes</text>
<text x="408.00" y="79.90" font-size="4.72" fill="#2a2a2a" textLength="27.30" lengthAdjust="spacingAndGlyphs">Akkermansia</text>
<text x="398.90" y="97.43" font-size="4.81" fill="#2a2a2a" textLength="38.20" lengthAdjust="spacingAndGlyphs">Akkermansiaceae</text>
<text x="390.90" y="114.54" font-size="4.82" fill="#2a2a2a" textLength="41.00" lengthAdjust="spacingAndGlyphs">Verrucomicrobiales</text>
<text x="382.30" y="135.13" font-size="4.79" fill="#2a2a2a" textLength="37.30" lengthAdjust="spacingAndGlyphs">Verrucomicrobiae</text>
<text x="376.00" y="153.44" font-size="4.84" fill="#2a2a2a" textLength="39.00" lengthAdjust="spacingAndGlyphs">Verrucomicrobiota</text>
<text x="440.60" y="105.67" font-size="4.90" fill="#2a2a2a" textLength="33.80" lengthAdjust="spacingAndGlyphs">Bifidobacterium</text>
<text x="425.70" y="119.99" font-size="4.97" fill="#2a2a2a" textLength="40.90" lengthAdjust="spacingAndGlyphs">Bifidobacteriaceae</text>
<text x="421.20" y="136.17" font-size="4.92" fill="#2a2a2a" textLength="36.10" lengthAdjust="spacingAndGlyphs">Bifidobacteriales</text>
<text x="460.90" y="133.84" font-size="4.55" fill="#2a2a2a" textLength="31.50" lengthAdjust="spacingAndGlyphs">Eggerthellaceae</text>
<text x="415.90" y="152.78" font-size="4.96" fill="#2a2a2a" textLength="31.40" lengthAdjust="spacingAndGlyphs">Actinobacteria</text>
<text x="453.00" y="154.55" font-size="4.87" fill="#2a2a2a" textLength="35.20" lengthAdjust="spacingAndGlyphs">Coriobacteriales</text>
<text x="472.00" y="158.74" font-size="4.55" fill="#2a2a2a" textLength="35.50" lengthAdjust="spacingAndGlyphs">Coriobacteriaceae</text>
<text x="500.30" y="155.24" font-size="4.55" fill="#2a2a2a" textLength="20.20" lengthAdjust="spacingAndGlyphs">Collinsella</text>
<text x="439.80" y="162.79" font-size="4.96" fill="#2a2a2a" textLength="30.60" lengthAdjust="spacingAndGlyphs">Coriobacteriia</text>
<text x="412.20" y="167.76" font-size="4.90" fill="#2a2a2a" textLength="35.10" lengthAdjust="spacingAndGlyphs">Actinobacteriota</text>
<text x="332.30" y="141.24" font-size="4.55" fill="#2a2a2a" textLength="31.20" lengthAdjust="spacingAndGlyphs">Anaerovoracaceae</text>
<text x="307.80" y="157.34" font-size="4.55" fill="#2a2a2a" textLength="61.00" lengthAdjust="spacingAndGlyphs">Peptostreptococcales-Tissierellales</text>
<text x="264.50" y="162.68" font-size="4.95" fill="#2a2a2a" textLength="59.20" lengthAdjust="spacingAndGlyphs">stensenellaceae R-7 group</text>
<text x="277.80" y="167.02" font-size="4.77" fill="#2a2a2a" textLength="43.20" lengthAdjust="spacingAndGlyphs">Christensenellaceae</text>
<text x="296.00" y="171.89" font-size="4.70" fill="#2a2a2a" textLength="38.40" lengthAdjust="spacingAndGlyphs">Christensenellales</text>
<text x="361.00" y="182.53" font-size="5.36" fill="#2a2a2a" textLength="14.00" lengthAdjust="spacingAndGlyphs">Bacilli</text>
<text x="308.10" y="190.64" font-size="4.55" fill="#2a2a2a" textLength="27.40" lengthAdjust="spacingAndGlyphs">Monoglobales</text>
<text x="289.10" y="201.04" font-size="4.55" fill="#2a2a2a" textLength="31.00" lengthAdjust="spacingAndGlyphs">Monoglobaceae</text>
<text x="276.70" y="209.94" font-size="4.55" fill="#2a2a2a" textLength="23.50" lengthAdjust="spacingAndGlyphs">Monoglobus</text>
<text x="312.00" y="224.64" font-size="4.55" fill="#2a2a2a" textLength="23.00" lengthAdjust="spacingAndGlyphs">Butyricicoccaceae</text>
<text x="303.80" y="232.94" font-size="4.55" fill="#2a2a2a" textLength="25.00" lengthAdjust="spacingAndGlyphs">Butyricicoccus</text>
<text x="323.80" y="253.34" font-size="4.83" fill="#2a2a2a" textLength="21.60" lengthAdjust="spacingAndGlyphs">UCG−003</text>
<text x="356.80" y="262.84" font-size="4.55" fill="#2a2a2a" textLength="31.50" lengthAdjust="spacingAndGlyphs">NK4A214 group</text>
<text x="329.00" y="273.84" font-size="4.55" fill="#2a2a2a" textLength="18.00" lengthAdjust="spacingAndGlyphs">UCG−005</text>
<text x="349.20" y="280.34" font-size="4.55" fill="#2a2a2a" textLength="18.60" lengthAdjust="spacingAndGlyphs">UCG−002</text>
<text x="410.00" y="229.69" font-size="4.69" fill="#2a2a2a" textLength="31.00" lengthAdjust="spacingAndGlyphs">Prevotellaceae</text>
<text x="449.50" y="232.38" font-size="4.66" fill="#2a2a2a" textLength="29.30" lengthAdjust="spacingAndGlyphs">Rikenellaceae</text>
<text x="471.20" y="239.07" font-size="4.91" fill="#2a2a2a" textLength="18.30" lengthAdjust="spacingAndGlyphs">Alistipes</text>
<text x="428.00" y="242.94" font-size="4.55" fill="#2a2a2a" textLength="30.00" lengthAdjust="spacingAndGlyphs">Barnesiellaceae</text>
<text x="434.50" y="260.94" font-size="4.55" fill="#2a2a2a" textLength="20.50" lengthAdjust="spacingAndGlyphs">Barnesiella</text>
<text x="0.50" y="269.84" font-size="10.40" fill="#000" font-weight="bold" stroke="#000" stroke-width="0.4">C</text>
<line x1="33.60" y1="269.50" x2="33.60" y2="393.60" stroke="#111" stroke-width="1.1"/>
<line x1="33.10" y1="393.30" x2="520.00" y2="393.30" stroke="#111" stroke-width="1.1"/>
<line x1="29.00" y1="387.60" x2="33.60" y2="387.60" stroke="#111" stroke-width="0.8"/>
<text x="22.64" y="389.90" font-size="6.40" fill="#2a2a2a" class="tk">0</text>
<line x1="29.00" y1="358.34" x2="33.60" y2="358.34" stroke="#111" stroke-width="0.8"/>
<text x="19.08" y="360.64" font-size="6.40" fill="#2a2a2a" class="tk">25</text>
<line x1="29.00" y1="329.08" x2="33.60" y2="329.08" stroke="#111" stroke-width="0.8"/>
<text x="19.08" y="331.38" font-size="6.40" fill="#2a2a2a" class="tk">50</text>
<line x1="29.00" y1="299.81" x2="33.60" y2="299.81" stroke="#111" stroke-width="0.8"/>
<text x="19.08" y="302.12" font-size="6.40" fill="#2a2a2a" class="tk">75</text>
<text transform="translate(14.31,363.30) rotate(-90)" x="0" y="0" font-size="7.80" fill="#1a1a1a" stroke="#1a1a1a" stroke-width="0.25" textLength="60.00" lengthAdjust="spacingAndGlyphs">Relative abundance [%]</text>
<line x1="68.80" y1="393.30" x2="68.80" y2="396.30" stroke="#111" stroke-width="0.8"/>
<line x1="128.18" y1="393.30" x2="128.18" y2="396.30" stroke="#111" stroke-width="0.8"/>
<line x1="187.56" y1="393.30" x2="187.56" y2="396.30" stroke="#111" stroke-width="0.8"/>
<line x1="246.94" y1="393.30" x2="246.94" y2="396.30" stroke="#111" stroke-width="0.8"/>
<line x1="306.32" y1="393.30" x2="306.32" y2="396.30" stroke="#111" stroke-width="0.8"/>
<line x1="365.70" y1="393.30" x2="365.70" y2="396.30" stroke="#111" stroke-width="0.8"/>
<line x1="425.08" y1="393.30" x2="425.08" y2="396.30" stroke="#111" stroke-width="0.8"/>
<line x1="484.46" y1="393.30" x2="484.46" y2="396.30" stroke="#111" stroke-width="0.8"/>
<text transform="translate(33.00,416.90) rotate(-14.52)" font-size="6.6" fill="#2a2a2a" textLength="55.06" lengthAdjust="spacingAndGlyphs">p__Actinobacteriota</text>
<text transform="translate(98.80,411.90) rotate(-15.24)" font-size="6.6" fill="#2a2a2a" textLength="38.04" lengthAdjust="spacingAndGlyphs">p__Firmicutes</text>
<text transform="translate(158.00,410.20) rotate(-13.34)" font-size="6.6" fill="#2a2a2a" textLength="35.97" lengthAdjust="spacingAndGlyphs">c__Clostridia</text>
<text transform="translate(208.80,415.70) rotate(-14.36)" font-size="6.6" fill="#2a2a2a" textLength="50.79" lengthAdjust="spacingAndGlyphs">o__Lachnospirales</text>
<text transform="translate(265.00,416.40) rotate(-14.80)" font-size="6.6" fill="#2a2a2a" textLength="54.82" lengthAdjust="spacingAndGlyphs">f__Lachnospiraceae</text>
<text transform="translate(327.00,414.90) rotate(-14.45)" font-size="6.6" fill="#2a2a2a" textLength="50.08" lengthAdjust="spacingAndGlyphs">o__Oscillospirales</text>
<text transform="translate(383.00,415.90) rotate(-13.91)" font-size="6.6" fill="#2a2a2a" textLength="56.15" lengthAdjust="spacingAndGlyphs">f__Ruminococcaceae</text>
<text transform="translate(446.30,416.90) rotate(-14.41)" font-size="6.6" fill="#2a2a2a" textLength="55.44" lengthAdjust="spacingAndGlyphs">g__Faecalibacterium</text>
<circle cx="80.80" cy="335.00" r="0.75" fill="#a4b0cc"/>
<circle cx="80.80" cy="340.00" r="0.75" fill="#a4b0cc"/>
<circle cx="80.80" cy="345.00" r="0.75" fill="#a4b0cc"/>
<circle cx="80.80" cy="350.00" r="0.75" fill="#a4b0cc"/>
<circle cx="80.80" cy="355.00" r="0.75" fill="#a4b0cc"/>
<circle cx="80.80" cy="360.00" r="0.75" fill="#a4b0cc"/>
<circle cx="80.80" cy="364.00" r="0.75" fill="#a4b0cc"/>
<rect x="45.70" y="382.60" width="22.20" height="5.00" fill="#d6ebcd"/>
<line x1="56.80" y1="380.50" x2="56.80" y2="387.80" stroke="#4ea84e" stroke-width="1.0"/>
<line x1="45.70" y1="380.50" x2="67.90" y2="380.50" stroke="#4ea84e" stroke-width="1.2"/>
<line x1="45.70" y1="387.80" x2="67.90" y2="387.80" stroke="#4ea84e" stroke-width="1.2"/>
<line x1="45.70" y1="385.50" x2="67.90" y2="385.50" stroke="#3c9a3c" stroke-width="1.3"/>
<rect x="69.70" y="378.80" width="22.20" height="8.40" fill="#b9c0dd"/>
<line x1="80.80" y1="369.50" x2="80.80" y2="387.80" stroke="#2c5689" stroke-width="1.0"/>
<line x1="69.70" y1="369.50" x2="91.90" y2="369.50" stroke="#2c5689" stroke-width="1.2"/>
<line x1="69.70" y1="387.80" x2="91.90" y2="387.80" stroke="#2c5689" stroke-width="1.2"/>
<line x1="69.70" y1="383.30" x2="91.90" y2="383.30" stroke="#1d3f73" stroke-width="1.4"/>
<text x="74.80" y="385.59" font-size="8.30" fill="#1f2f52" stroke="#1f2f52" stroke-width="0.2">4%</text>
<line x1="56.80" y1="330.50" x2="80.80" y2="330.50" stroke="#2a2a2a" stroke-width="1.1"/>
<text x="65.53" y="330.40" font-size="8.4" fill="#1a1a1a" stroke="#1a1a1a" stroke-width="0.25">**</text>
<rect x="105.08" y="302.50" width="22.20" height="26.30" fill="#d6ebcd"/>
<line x1="116.18" y1="289.00" x2="116.18" y2="344.50" stroke="#4ea84e" stroke-width="1.0"/>
<line x1="105.08" y1="289.00" x2="127.28" y2="289.00" stroke="#4ea84e" stroke-width="1.2"/>
<line x1="105.08" y1="344.50" x2="127.28" y2="344.50" stroke="#4ea84e" stroke-width="1.2"/>
<line x1="105.08" y1="318.80" x2="127.28" y2="318.80" stroke="#3c9a3c" stroke-width="1.3"/>
<text x="107.87" y="318.99" font-size="8.30" fill="#2a3f2a" stroke="#2a3f2a" stroke-width="0.2">59%</text>
<rect x="129.08" y="316.00" width="22.20" height="28.00" fill="#b9c0dd"/>
<line x1="140.18" y1="279.40" x2="140.18" y2="375.20" stroke="#2c5689" stroke-width="1.0"/>
<line x1="129.08" y1="279.40" x2="151.28" y2="279.40" stroke="#2c5689" stroke-width="1.2"/>
<line x1="129.08" y1="375.20" x2="151.28" y2="375.20" stroke="#2c5689" stroke-width="1.2"/>
<line x1="129.08" y1="331.00" x2="151.28" y2="331.00" stroke="#1d3f73" stroke-width="1.4"/>
<text x="131.87" y="331.59" font-size="8.30" fill="#1f2f52" stroke="#1f2f52" stroke-width="0.2">48%</text>
<line x1="116.18" y1="277.50" x2="140.18" y2="277.50" stroke="#2a2a2a" stroke-width="1.1"/>
<text x="123.28" y="278.00" font-size="8.4" fill="#1a1a1a" stroke="#1a1a1a" stroke-width="0.25">***</text>
<rect x="164.46" y="310.80" width="22.20" height="24.90" fill="#d6ebcd"/>
<line x1="175.56" y1="293.50" x2="175.56" y2="354.00" stroke="#4ea84e" stroke-width="1.0"/>
<line x1="164.46" y1="293.50" x2="186.66" y2="293.50" stroke="#4ea84e" stroke-width="1.2"/>
<line x1="164.46" y1="354.00" x2="186.66" y2="354.00" stroke="#4ea84e" stroke-width="1.2"/>
<line x1="164.46" y1="326.20" x2="186.66" y2="326.20" stroke="#3c9a3c" stroke-width="1.3"/>
<text x="167.25" y="325.99" font-size="8.30" fill="#2a3f2a" stroke="#2a3f2a" stroke-width="0.2">53%</text>
<rect x="188.46" y="328.40" width="22.20" height="24.00" fill="#b9c0dd"/>
<line x1="199.56" y1="290.00" x2="199.56" y2="375.90" stroke="#2c5689" stroke-width="1.0"/>
<line x1="188.46" y1="290.00" x2="210.66" y2="290.00" stroke="#2c5689" stroke-width="1.2"/>
<line x1="188.46" y1="375.90" x2="210.66" y2="375.90" stroke="#2c5689" stroke-width="1.2"/>
<line x1="188.46" y1="339.20" x2="210.66" y2="339.20" stroke="#1d3f73" stroke-width="1.4"/>
<text x="191.25" y="340.29" font-size="8.30" fill="#1f2f52" stroke="#1f2f52" stroke-width="0.2">41%</text>
<line x1="175.56" y1="284.50" x2="199.56" y2="284.50" stroke="#2a2a2a" stroke-width="1.1"/>
<text x="182.66" y="285.10" font-size="8.4" fill="#1a1a1a" stroke="#1a1a1a" stroke-width="0.25">***</text>
<circle cx="234.94" cy="349.40" r="0.70" fill="#c8d8c0"/>
<circle cx="234.94" cy="352.40" r="0.70" fill="#c8d8c0"/>
<circle cx="258.94" cy="327.30" r="0.75" fill="#a4b0cc"/>
<circle cx="258.94" cy="331.20" r="0.75" fill="#a4b0cc"/>
<circle cx="258.94" cy="346.40" r="0.75" fill="#a4b0cc"/>
<circle cx="258.94" cy="349.40" r="0.75" fill="#a4b0cc"/>
<circle cx="258.94" cy="352.40" r="0.75" fill="#a4b0cc"/>
<circle cx="258.94" cy="360.50" r="0.75" fill="#a4b0cc"/>
<rect x="223.84" y="370.80" width="22.20" height="9.20" fill="#d6ebcd"/>
<line x1="234.94" y1="357.70" x2="234.94" y2="385.50" stroke="#4ea84e" stroke-width="1.0"/>
<line x1="223.84" y1="357.70" x2="246.04" y2="357.70" stroke="#4ea84e" stroke-width="1.2"/>
<line x1="223.84" y1="385.50" x2="246.04" y2="385.50" stroke="#4ea84e" stroke-width="1.2"/>
<line x1="223.84" y1="377.20" x2="246.04" y2="377.20" stroke="#3c9a3c" stroke-width="1.3"/>
<text x="228.94" y="377.89" font-size="8.30" fill="#2a3f2a" stroke="#2a3f2a" stroke-width="0.2">9%</text>
<rect x="247.84" y="375.60" width="22.20" height="7.90" fill="#b9c0dd"/>
<line x1="258.94" y1="364.60" x2="258.94" y2="387.50" stroke="#2c5689" stroke-width="1.0"/>
<line x1="247.84" y1="364.60" x2="270.04" y2="364.60" stroke="#2c5689" stroke-width="1.2"/>
<line x1="247.84" y1="387.50" x2="270.04" y2="387.50" stroke="#2c5689" stroke-width="1.2"/>
<line x1="247.84" y1="379.80" x2="270.04" y2="379.80" stroke="#1d3f73" stroke-width="1.4"/>
<text x="252.94" y="381.89" font-size="8.30" fill="#1f2f52" stroke="#1f2f52" stroke-width="0.2">7%</text>
<line x1="234.94" y1="323.50" x2="258.94" y2="323.50" stroke="#2a2a2a" stroke-width="1.1"/>
<text x="243.67" y="323.50" font-size="8.4" fill="#1a1a1a" stroke="#1a1a1a" stroke-width="0.25">**</text>
<circle cx="294.32" cy="349.40" r="0.70" fill="#c8d8c0"/>
<circle cx="294.32" cy="352.40" r="0.70" fill="#c8d8c0"/>
<circle cx="318.32" cy="327.80" r="0.75" fill="#a4b0cc"/>
<circle cx="318.32" cy="331.20" r="0.75" fill="#a4b0cc"/>
<circle cx="318.32" cy="346.40" r="0.75" fill="#a4b0cc"/>
<circle cx="318.32" cy="349.40" r="0.75" fill="#a4b0cc"/>
<circle cx="318.32" cy="352.40" r="0.75" fill="#a4b0cc"/>
<circle cx="318.32" cy="360.50" r="0.75" fill="#a4b0cc"/>
<rect x="283.22" y="370.60" width="22.20" height="9.40" fill="#d6ebcd"/>
<line x1="294.32" y1="358.10" x2="294.32" y2="385.40" stroke="#4ea84e" stroke-width="1.0"/>
<line x1="283.22" y1="358.10" x2="305.42" y2="358.10" stroke="#4ea84e" stroke-width="1.2"/>
<line x1="283.22" y1="385.40" x2="305.42" y2="385.40" stroke="#4ea84e" stroke-width="1.2"/>
<line x1="283.22" y1="377.30" x2="305.42" y2="377.30" stroke="#3c9a3c" stroke-width="1.3"/>
<text x="288.32" y="377.99" font-size="8.30" fill="#2a3f2a" stroke="#2a3f2a" stroke-width="0.2">9%</text>
<rect x="307.22" y="375.00" width="22.20" height="8.70" fill="#b9c0dd"/>
<line x1="318.32" y1="364.50" x2="318.32" y2="387.20" stroke="#2c5689" stroke-width="1.0"/>
<line x1="307.22" y1="364.50" x2="329.42" y2="364.50" stroke="#2c5689" stroke-width="1.2"/>
<line x1="307.22" y1="387.20" x2="329.42" y2="387.20" stroke="#2c5689" stroke-width="1.2"/>
<line x1="307.22" y1="380.30" x2="329.42" y2="380.30" stroke="#1d3f73" stroke-width="1.4"/>
<text x="312.32" y="381.29" font-size="8.30" fill="#1f2f52" stroke="#1f2f52" stroke-width="0.2">7%</text>
<line x1="294.32" y1="322.50" x2="318.32" y2="322.50" stroke="#2a2a2a" stroke-width="1.1"/>
<text x="303.05" y="323.40" font-size="8.4" fill="#1a1a1a" stroke="#1a1a1a" stroke-width="0.25">**</text>
<rect x="342.60" y="331.50" width="22.20" height="21.60" fill="#d6ebcd"/>
<line x1="353.70" y1="313.20" x2="353.70" y2="376.40" stroke="#4ea84e" stroke-width="1.0"/>
<line x1="342.60" y1="313.20" x2="364.80" y2="313.20" stroke="#4ea84e" stroke-width="1.2"/>
<line x1="342.60" y1="376.40" x2="364.80" y2="376.40" stroke="#4ea84e" stroke-width="1.2"/>
<line x1="342.60" y1="343.10" x2="364.80" y2="343.10" stroke="#3c9a3c" stroke-width="1.3"/>
<text x="345.39" y="341.79" font-size="8.30" fill="#2a3f2a" stroke="#2a3f2a" stroke-width="0.2">38%</text>
<rect x="366.60" y="349.10" width="22.20" height="19.90" fill="#b9c0dd"/>
<line x1="377.70" y1="320.80" x2="377.70" y2="386.30" stroke="#2c5689" stroke-width="1.0"/>
<line x1="366.60" y1="320.80" x2="388.80" y2="320.80" stroke="#2c5689" stroke-width="1.2"/>
<line x1="366.60" y1="386.30" x2="388.80" y2="386.30" stroke="#2c5689" stroke-width="1.2"/>
<line x1="366.60" y1="359.10" x2="388.80" y2="359.10" stroke="#1d3f73" stroke-width="1.4"/>
<text x="369.39" y="357.69" font-size="8.30" fill="#1f2f52" stroke="#1f2f52" stroke-width="0.2">24%</text>
<line x1="353.70" y1="306.50" x2="377.70" y2="306.50" stroke="#2a2a2a" stroke-width="1.1"/>
<text x="360.80" y="306.80" font-size="8.4" fill="#1a1a1a" stroke="#1a1a1a" stroke-width="0.25">***</text>
<circle cx="437.08" cy="329.00" r="0.75" fill="#a4b0cc"/>
<rect x="401.98" y="346.40" width="22.20" height="13.30" fill="#d6ebcd"/>
<line x1="413.08" y1="329.80" x2="413.08" y2="379.00" stroke="#4ea84e" stroke-width="1.0"/>
<line x1="401.98" y1="329.80" x2="424.18" y2="329.80" stroke="#4ea84e" stroke-width="1.2"/>
<line x1="401.98" y1="379.00" x2="424.18" y2="379.00" stroke="#4ea84e" stroke-width="1.2"/>
<line x1="401.98" y1="354.70" x2="424.18" y2="354.70" stroke="#3c9a3c" stroke-width="1.3"/>
<text x="404.77" y="353.39" font-size="8.30" fill="#2a3f2a" stroke="#2a3f2a" stroke-width="0.2">28%</text>
<rect x="425.98" y="364.50" width="22.20" height="13.20" fill="#b9c0dd"/>
<line x1="437.08" y1="343.60" x2="437.08" y2="388.00" stroke="#2c5689" stroke-width="1.0"/>
<line x1="425.98" y1="343.60" x2="448.18" y2="343.60" stroke="#2c5689" stroke-width="1.2"/>
<line x1="425.98" y1="388.00" x2="448.18" y2="388.00" stroke="#2c5689" stroke-width="1.2"/>
<line x1="425.98" y1="370.40" x2="448.18" y2="370.40" stroke="#1d3f73" stroke-width="1.4"/>
<text x="428.77" y="370.99" font-size="8.30" fill="#1f2f52" stroke="#1f2f52" stroke-width="0.2">15%</text>
<line x1="413.08" y1="312.50" x2="437.08" y2="312.50" stroke="#2a2a2a" stroke-width="1.1"/>
<text x="420.18" y="312.40" font-size="8.4" fill="#1a1a1a" stroke="#1a1a1a" stroke-width="0.25">***</text>
<circle cx="472.46" cy="318.70" r="0.70" fill="#c8d8c0"/>
<circle cx="472.46" cy="335.00" r="0.70" fill="#c8d8c0"/>
<circle cx="496.46" cy="338.30" r="0.75" fill="#a4b0cc"/>
<circle cx="496.46" cy="356.60" r="0.75" fill="#a4b0cc"/>
<circle cx="496.46" cy="359.00" r="0.75" fill="#a4b0cc"/>
<rect x="461.36" y="363.10" width="22.20" height="14.40" fill="#d6ebcd"/>
<line x1="472.46" y1="346.10" x2="472.46" y2="388.00" stroke="#4ea84e" stroke-width="1.0"/>
<line x1="461.36" y1="346.10" x2="483.56" y2="346.10" stroke="#4ea84e" stroke-width="1.2"/>
<line x1="461.36" y1="388.00" x2="483.56" y2="388.00" stroke="#4ea84e" stroke-width="1.2"/>
<line x1="461.36" y1="370.40" x2="483.56" y2="370.40" stroke="#3c9a3c" stroke-width="1.3"/>
<text x="464.15" y="369.99" font-size="8.30" fill="#2a3f2a" stroke="#2a3f2a" stroke-width="0.2">15%</text>
<rect x="485.36" y="376.20" width="22.20" height="9.10" fill="#b9c0dd"/>
<line x1="496.46" y1="363.60" x2="496.46" y2="388.00" stroke="#2c5689" stroke-width="1.0"/>
<line x1="485.36" y1="363.60" x2="507.56" y2="363.60" stroke="#2c5689" stroke-width="1.2"/>
<line x1="485.36" y1="388.00" x2="507.56" y2="388.00" stroke="#2c5689" stroke-width="1.2"/>
<line x1="485.36" y1="381.40" x2="507.56" y2="381.40" stroke="#1d3f73" stroke-width="1.4"/>
<text x="490.46" y="382.99" font-size="8.30" fill="#1f2f52" stroke="#1f2f52" stroke-width="0.2">5%</text>
<line x1="472.46" y1="315.50" x2="496.46" y2="315.50" stroke="#2a2a2a" stroke-width="1.1"/>
<text x="479.56" y="316.20" font-size="8.4" fill="#1a1a1a" stroke="#1a1a1a" stroke-width="0.25">***</text>
<text x="34.60" y="375.31" font-size="7.80" fill="#1a1a1a">2%</text>
<path d="M39.5,377.5 Q39.5,384.5 45.5,386.2" fill="none" stroke="#222" stroke-width="0.7"/>
<path d="M43.6,384.6 L46.2,386.4 L43.4,387.6 Z" fill="#222"/>
</svg></body></html>
